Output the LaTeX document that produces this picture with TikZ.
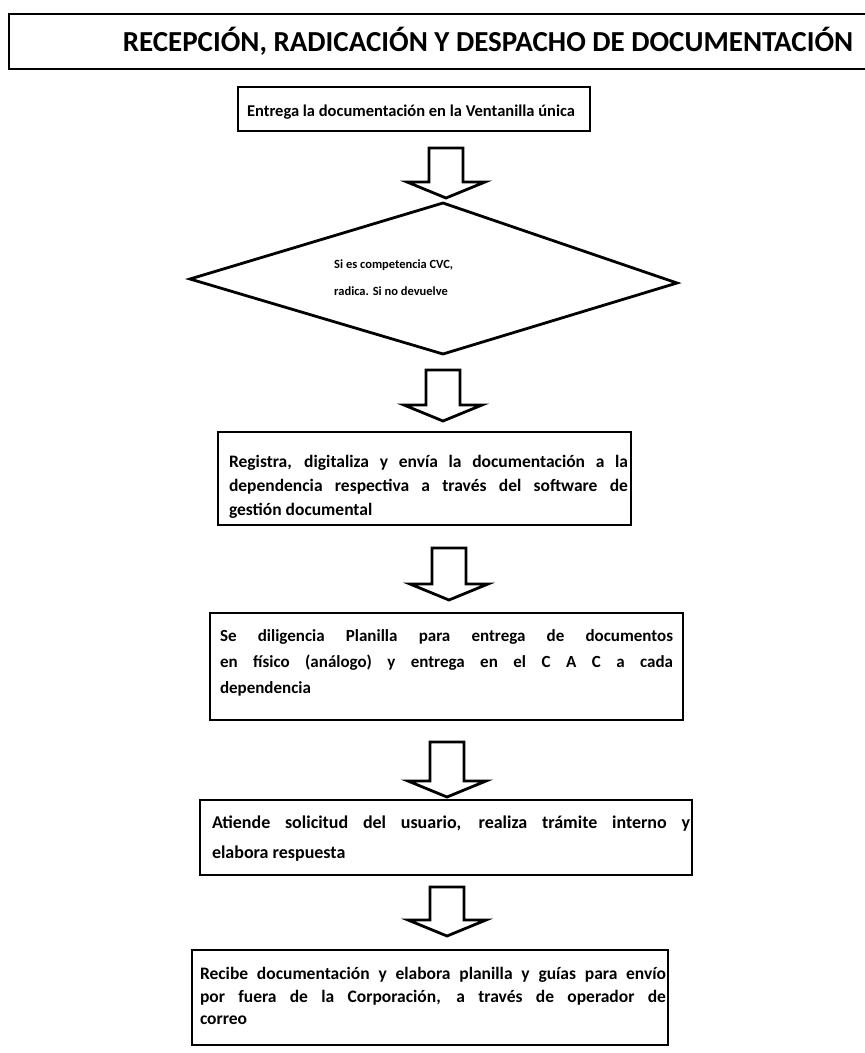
\documentclass[tikz,border=0pt]{standalone}
\usepackage{fontspec}
\setmainfont{Carlito}
\usetikzlibrary{calc}
\tikzset{
  box/.style={draw=black, line width=2pt, fill=white, inner sep=0pt},
  titlebox/.style={draw=black, line width=2pt, inner sep=0pt},
  blk/.style={draw=black, line width=2.8pt, fill=white, line join=miter},
  dia/.style={draw=black, line width=2.8pt, line join=miter},
  txt/.style={inner sep=0pt, text=black, font=\bfseries},
  jtxt/.style={txt, align=justify},
}
\newcommand\blockarrow[2]{%
  \draw[blk] let \p1=(#1), \p2=(#2) in
    (\x1-17pt,\y1) -- (\x1+17pt,\y1) -- (\x1+17pt,\y2+16pt) -- (\x1+39pt,\y2+16pt)
    -- (\x1,\y2) -- (\x1-39pt,\y2+16pt) -- (\x1-17pt,\y2+16pt) -- cycle;}
\begin{document}
\begin{tikzpicture}[x=1pt,y=-1pt]
\useasboundingbox[fill=white] (0,0) rectangle (865,1053);
% title
\node[titlebox, anchor=north west, minimum width=870pt, minimum height=55pt] (title) at (8,13) {};
\node[txt, font=\bfseries\fontsize{29}{32}\selectfont] (ttext) at (488,41) {RECEPCIÓN, RADICACIÓN Y DESPACHO DE DOCUMENTACIÓN};
% box 1
\node[box, minimum width=352pt, minimum height=44pt] (b1) at (414,109) {};
\node[txt, font=\bfseries\fontsize{16.5}{20}\selectfont] (t1) at (411,112) {Entrega la documentación en la Ventanilla única};
% decision
\coordinate (dT) at (443,203);
\coordinate (dR) at (677,283);
\coordinate (dB) at (443,354);
\coordinate (dL) at (190,279);
\draw[dia] (dT) -- (dR) -- (dB) -- (dL) -- cycle;
\node[txt, anchor=west, align=left, font=\bfseries\fontsize{12.5}{27}\selectfont] (dtext) at (334,278)
  {Si es competencia CVC,\\radica. Si no devuelve};
% box 3
\node[box, minimum width=413pt, minimum height=93pt] (b3) at (424.5,478.5) {};
\node[jtxt, text width=399pt, font=\bfseries\fontsize{17.5}{24}\selectfont] (t3) at (428.5,487)
  {Registra, digitaliza y envía la documentación a la\linebreak dependencia respectiva a través del software de\linebreak gestión documental};
% box 4
\node[box, minimum width=473pt, minimum height=107pt] (b4) at (446.5,666.5) {};
\node[jtxt, text width=453pt, font=\bfseries\fontsize{17}{26}\selectfont] (t4) at (446.5,663)
  {Se diligencia Planilla para entrega de documentos\linebreak en físico (análogo) y entrega en el C A C a cada\linebreak dependencia};
% box 5
\node[box, minimum width=492pt, minimum height=75pt] (b5) at (446,837.5) {};
\node[jtxt, text width=478pt, font=\bfseries\fontsize{18}{30}\selectfont] (t5) at (451,839)
  {Atiende solicitud del usuario, realiza trámite interno y\linebreak elabora respuesta};
% box 6
\node[box, minimum width=476pt, minimum height=95pt] (b6) at (430,997.5) {};
\node[jtxt, text width=466pt, font=\bfseries\fontsize{17.5}{22.5}\selectfont] (t6) at (433,996)
  {Recibe documentación y elabora planilla y guías para envío\linebreak por fuera de la Corporación, a través de operador de\linebreak correo};
% arrows
\coordinate (a1s) at (446,148); \coordinate (a1e) at (446,198);
\coordinate (a2s) at (443,370); \coordinate (a2e) at (443,421);
\coordinate (a3s) at (449,548); \coordinate (a3e) at (449,600);
\coordinate (a4s) at (447,742); \coordinate (a4e) at (447,797);
\coordinate (a5s) at (447,887); \coordinate (a5e) at (447,936);
\blockarrow{a1s}{a1e}
\blockarrow{a2s}{a2e}
\blockarrow{a3s}{a3e}
\blockarrow{a4s}{a4e}
\blockarrow{a5s}{a5e}
\end{tikzpicture}
\end{document}
